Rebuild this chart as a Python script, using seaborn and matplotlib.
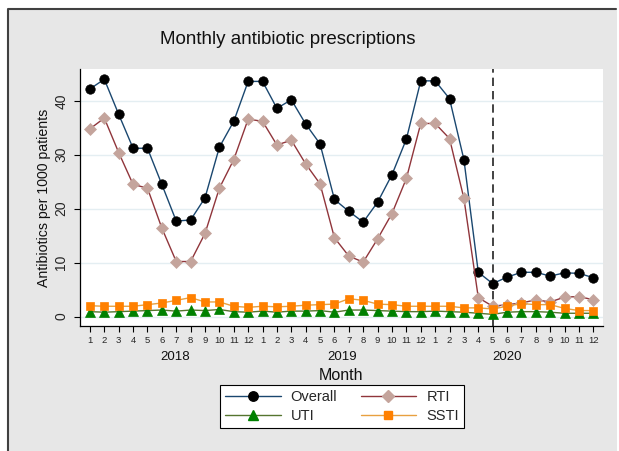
import numpy as np
import pandas as pd
import matplotlib
matplotlib.use("Agg")
import matplotlib.pyplot as plt
from matplotlib.lines import Line2D
from matplotlib.patches import Rectangle
import seaborn as sns

# ---------------- data ----------------
month_labels = list(range(1, 13)) * 3
years = ["2018", "2019", "2020"]
overall = [42.2, 44.0, 37.5, 31.2, 31.2, 24.5, 17.7, 17.9, 22.0, 31.4, 36.2, 43.6,
           43.6, 38.6, 40.2, 35.7, 32.0, 21.7, 19.5, 17.5, 21.2, 26.3, 32.9, 43.7,
           43.7, 40.4, 29.1, 8.2, 6.1, 7.3, 8.2, 8.2, 7.5, 8.1, 8.0, 7.2]
rti = [34.8, 36.8, 30.4, 24.5, 23.8, 16.4, 10.2, 10.2, 15.4, 23.8, 29.1, 36.6,
       36.2, 31.8, 32.7, 28.3, 24.6, 14.6, 11.2, 10.1, 14.4, 19.1, 25.6, 35.8,
       35.8, 33.0, 21.9, 3.5, 1.9, 2.2, 2.5, 3.1, 2.7, 3.6, 3.7, 3.1]
uti = [0.9, 0.8, 0.9, 1.0, 1.1, 1.2, 1.0, 1.2, 1.1, 1.3, 0.9, 0.8,
       1.0, 0.8, 1.0, 1.0, 1.1, 0.8, 1.2, 1.2, 1.1, 1.0, 0.9, 0.9,
       1.0, 0.9, 0.8, 0.6, 0.4, 0.8, 0.9, 0.9, 0.8, 0.6, 0.6, 0.6]
ssti = [2.0, 1.9, 1.9, 1.9, 2.2, 2.5, 3.0, 3.5, 2.7, 2.7, 1.9, 1.7,
        1.9, 1.8, 1.9, 2.1, 2.2, 2.3, 3.3, 3.0, 2.3, 2.2, 1.9, 1.9,
        1.9, 1.9, 1.6, 1.6, 1.4, 1.9, 2.4, 2.2, 2.2, 1.5, 1.1, 1.1]
series_names = ["Overall", "RTI", "UTI", "SSTI"]
cutoff_index = 29  # May 2020

idx = np.arange(1, len(month_labels) + 1)
df = pd.DataFrame({
    "idx": np.tile(idx, 4),
    "value": overall + rti + uti + ssti,
    "series": np.repeat(series_names, len(idx)),
})

# ---------------- styles ----------------
line_colors = {"Overall": "#1a476f", "RTI": "#90353b", "UTI": "#55752f", "SSTI": "#e8a040"}
mark_colors = {"Overall": "#000000", "RTI": "#c4a49c", "UTI": "#008000", "SSTI": "#ff8000"}
markers = {"Overall": "o", "RTI": "D", "UTI": "^", "SSTI": "s"}
msizes = {"Overall": 6.8, "RTI": 6.0, "UTI": 6.5, "SSTI": 6.0}

sns.set_theme(style="white")
plt.rcParams["font.family"] = ["Liberation Sans", "DejaVu Sans"]

W, H = 619, 451
fig = plt.figure(figsize=(W / 100, H / 100), dpi=100)
fig.patch.set_facecolor("white")
# gray panel with dark top/left border
fig.patches.append(Rectangle((8 / W, 0), (617 - 8) / W, (H - 8) / H, transform=fig.transFigure,
                             facecolor="#e7e7e7", edgecolor="none", zorder=-10))
fig.lines.append(Line2D([8 / W, 8 / W, 616 / W], [0, 1 - 8.5 / H, 1 - 8.5 / H],
                        transform=fig.transFigure, color="#404040", lw=1.5))

L, R, T, B = 80, 603, 69, 326
ax = fig.add_axes([L / W, 1 - B / H, (R - L) / W, (B - T) / H])
ax.set_facecolor("white")

for i, name in enumerate(series_names):
    sub = df[df["series"] == name]
    sns.lineplot(data=sub, x="idx", y="value", ax=ax, color=line_colors[name], lw=1.0,
                 marker=markers[name], markersize=msizes[name],
                 markerfacecolor=mark_colors[name], markeredgecolor=mark_colors[name],
                 markeredgewidth=0.5, zorder=3 + i, legend=False)

ax.axvline(cutoff_index, color="#222222", lw=1.2, ls=(0, (5, 3)), zorder=2, clip_on=False)

ax.set_xlim(0.31, 36.67)
ax.set_ylim(-1.76, 45.9)
ax.set_yticks([0, 10, 20, 30, 40])
ax.set_xticks(idx)
ax.set_xticklabels([str(m) for m in month_labels], fontsize=6.8)
ax.tick_params(axis="x", length=4.5, width=0.8, pad=2.5, color="black", direction="out", bottom=True)
ax.tick_params(axis="y", length=4.5, width=0.8, pad=4, color="black", direction="out", left=True,
               labelsize=10)
for lab in ax.get_yticklabels():
    lab.set_rotation(90)
    lab.set_va("center")
ax.grid(axis="y", color="#e4eef2", lw=1.0)
ax.set_axisbelow(True)
for s in ["top", "right"]:
    ax.spines[s].set_visible(False)
for s in ["left", "bottom"]:
    ax.spines[s].set_color("black")
    ax.spines[s].set_linewidth(0.9)

year_pos = [6.9, 18.5, 30.0]
for yp, yl in zip(year_pos, years):
    ax.text(yp, (B - 357) / (B - T), yl, transform=ax.get_xaxis_transform(),
            ha="center", va="center", fontsize=9.5, color="#111111")

ax.set_xlabel("Month", fontsize=11.5, color="#111111")
ax.xaxis.set_label_coords(0.5, (B - 368) / (B - T))
ax.set_ylabel("Antibiotics per 1000 patients", fontsize=10.2, color="#111111")
ax.yaxis.set_label_coords((51 - L) / (R - L), 0.5)

fig.text(288 / W, 1 - 40 / H, "Monthly antibiotic prescriptions", ha="center", va="center",
         fontsize=13.5, color="#111111")

# legend filled row-wise: Overall, RTI / UTI, SSTI
leg_order = ["Overall", "UTI", "RTI", "SSTI"]
handles = [Line2D([], [], color=line_colors[n], lw=1.0, marker=markers[n], markersize=msizes[n],
                  markerfacecolor=mark_colors[n], markeredgecolor=mark_colors[n])
           for n in leg_order]
leg = fig.legend(handles, leg_order, loc="center", bbox_to_anchor=(342 / W, 1 - 406.5 / H),
                 ncol=2, fontsize=10.5, frameon=True, fancybox=False, edgecolor="black",
                 facecolor="white", framealpha=1, handlelength=3.8, handletextpad=0.7,
                 columnspacing=1.6, borderpad=0.35, labelspacing=0.3)
leg.get_frame().set_linewidth(0.8)

fig.savefig("out.png", dpi=100, facecolor=fig.get_facecolor())
